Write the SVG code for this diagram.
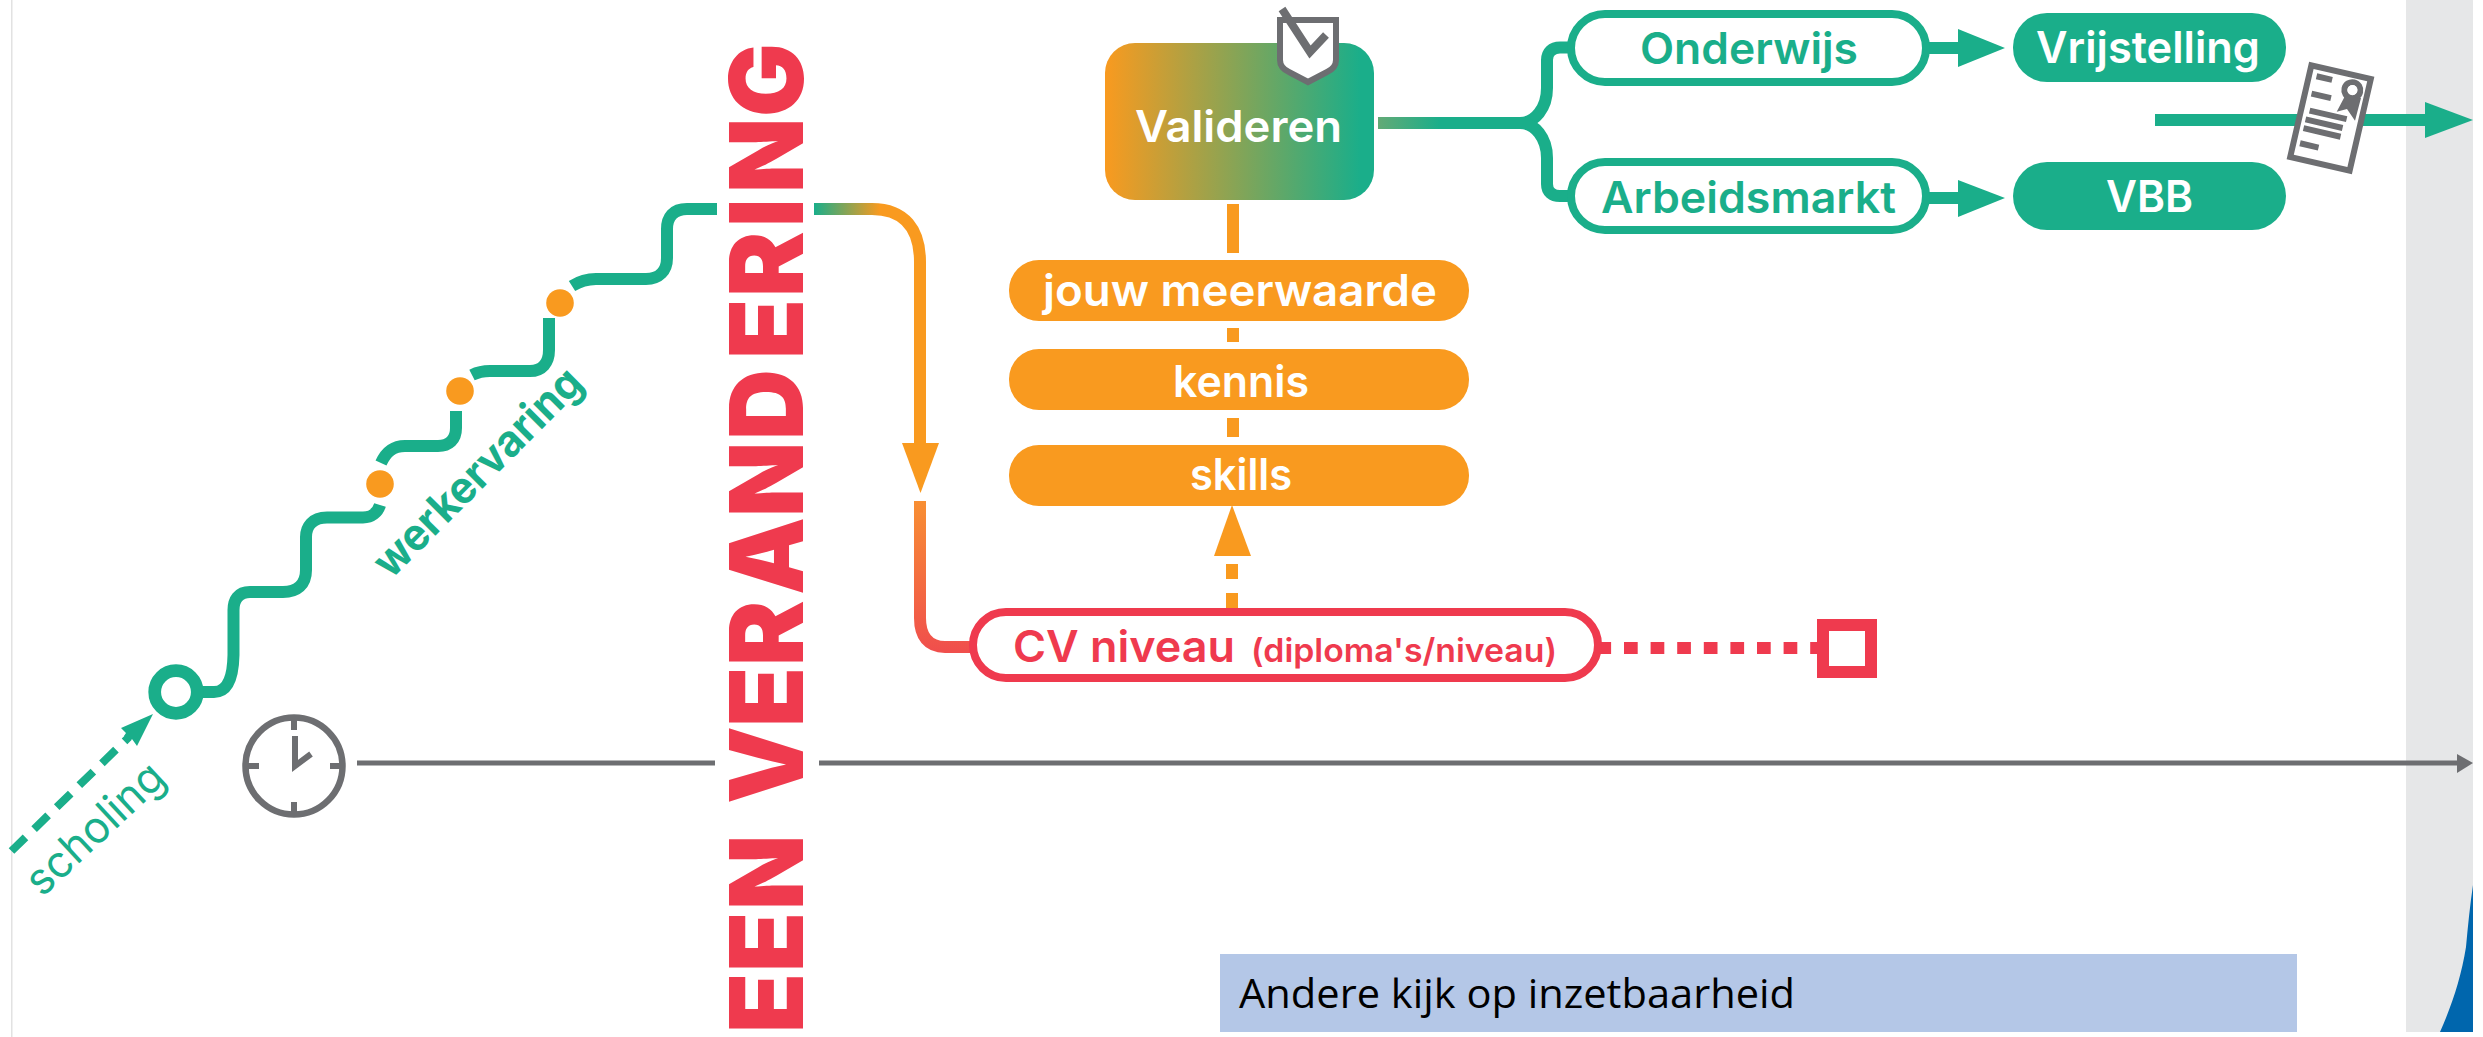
<svg xmlns="http://www.w3.org/2000/svg" width="2483" height="1037" viewBox="0 0 2483 1037">
<style>
.t{font-family:"Inter","Liberation Sans",sans-serif;font-weight:600;font-size:44px;text-anchor:start}
.w{fill:#fff}.g{fill:#1aae8a}.r{fill:#ef3a4e}.o{fill:#f99a1f}.k{fill:#6d6e71}
.ln{fill:none;stroke-width:12;stroke-linecap:butt}
.sg{stroke:#1aae8a}.so{stroke:#f99a1f}.sr{stroke:#ef3a4e}.sk{stroke:#6d6e71}
.po{fill:#fff;stroke:#1aae8a;stroke-width:8}
</style>
<defs>
<linearGradient id="gv" gradientUnits="userSpaceOnUse" x1="1105" y1="0" x2="1374" y2="0"><stop offset="0" stop-color="#f99a1f"/><stop offset="0.95" stop-color="#1aae8a"/></linearGradient>
<linearGradient id="gt" gradientUnits="userSpaceOnUse" x1="814" y1="0" x2="880" y2="0"><stop offset="0" stop-color="#1aae8a"/><stop offset="1" stop-color="#f99a1f"/></linearGradient>
<linearGradient id="gl" gradientUnits="userSpaceOnUse" x1="0" y1="501" x2="0" y2="650"><stop offset="0" stop-color="#f88f33"/><stop offset="1" stop-color="#f04f4c"/></linearGradient>
<linearGradient id="gb" gradientUnits="userSpaceOnUse" x1="1378" y1="0" x2="1440" y2="0"><stop offset="0" stop-color="#63aa76"/><stop offset="1" stop-color="#1aae8a"/></linearGradient>
</defs>
<rect width="2483" height="1037" fill="#fff"/>
<rect x="11" y="0" width="1.5" height="1037" fill="#e2e2e2"/>
<g id="end-panel"><rect x="2406" y="0" width="67" height="1032" fill="#e6e7e8"/><path d="M2473,885 C2470,905 2468,925 2466,947 C2461,978 2452,1005 2440,1032 H2473Z" fill="#0066ad"/></g>

<g id="connectors">
<path class="ln sg" d="M200,692 H214 C226,692 233,680 233.5,655 V610 C233.5,600 238,592 250,592 H283 C297,592 306,585 306,570 V537 C306,527 312,517.5 327,517.5 H363 C372,517.5 378,512 380,505"/>
<path class="ln sg" d="M381,463 C386,452 393,446 405,446 H438 C449,446 456,440 456,428 V411"/>
<path class="ln sg" d="M472,375 C478,372 484,371 490,371 H530 C542,371 549,363 549,350 V318"/>
<path class="ln sg" d="M572,286 C580,281 588,279 596,279 H646 C659,279 667,271 667,258 V229 C667,217 673,209 687,209 H717"/>
<path class="ln" stroke="url(#gt)" d="M814,209 H872 C905,209 920,230 920,262 V443"/>
<polygon class="o" points="902,443 939,443 920.5,493"/>
<path class="ln" stroke="url(#gl)" d="M920,501 V618 C920,636 928,647 945,647 H972"/>
<line class="ln sg" x1="11.5" y1="851" x2="129" y2="737" stroke-dasharray="19.5 12" style="stroke-width:8"/>
<polygon class="g" points="153,714 121,728 126,733 124,736 129,741 132,739 137,746"/>
<path class="ln so" d="M1233,204 V253 M1233,328 V342 M1233,418 V437 M1232,564 V579 M1232,593 V609"/>
<polygon class="o" points="1232,505 1214,556 1251,556"/>
<line class="ln sr" x1="1597.4" y1="648" x2="1817" y2="648" stroke-dasharray="13.7 12.9"/>
<path class="ln" stroke="url(#gb)" d="M1378,123 H1520 C1535,123 1547,108 1547,88 V60 C1547,52 1552,47.5 1560,47.5 H1572"/>
<path class="ln sg" d="M1520,123 C1535,123 1547,138 1547,158 V184 C1547,192 1552,196 1560,196 H1572"/>
<path class="ln sg" d="M1928,48 H1960 M1928,198 H1960"/>
<polygon class="g" points="1958,29 2005,48 1958,67"/>
<polygon class="g" points="1958,180 2005,198 1958,217"/>
<path class="ln sg" d="M2155,120 H2426"/>
<polygon class="g" points="2425,102 2473,120 2425,138"/>
<path class="ln sk" style="stroke-width:5" d="M357,763 H715 M819,763 H2458"/>
<polygon class="k" points="2457,754 2473,763 2457,773"/>
</g>

<g id="start"><circle cx="176" cy="692" r="21.3" fill="#fff" stroke="#1aae8a" stroke-width="12.7"/></g>
<g id="dot-1"><circle class="o" cx="380" cy="484" r="13.8"/></g>
<g id="dot-2"><circle class="o" cx="460" cy="391" r="13.8"/></g>
<g id="dot-3"><circle class="o" cx="560" cy="303" r="13.8"/></g>
<g id="label-scholing"><text class="t g" transform="translate(42,898) rotate(-43)" style="font-weight:400" textLength="172" lengthAdjust="spacingAndGlyphs">scholing</text></g>
<g id="label-werkervaring"><text class="t g" transform="translate(391,580) rotate(-45)" style="font-weight:700" textLength="275" lengthAdjust="spacingAndGlyphs">werkervaring</text></g>

<g id="clock">
<circle cx="294" cy="766" r="48.5" fill="#fff" stroke="#6d6e71" stroke-width="6.5"/>
<path class="ln sk" style="stroke-width:6" d="M294,720 V730 M294,802 V812 M248,766 H259 M330,766 H340"/>
<path class="ln sk" style="stroke-width:6" d="M295,736 V766 L311,754"/>
</g>

<g id="title"><text transform="translate(803,1026) rotate(-90) scale(.96,1)" font-family="Inter,'Liberation Sans',sans-serif" font-weight="900" font-size="102" class="r" x="-7.3 56.3 120.8 208 231.3 311.5 375 449 530.2 610.4 694.8 759.4 832.3 867.7 946.9">EEN VERANDERING</text></g>

<g id="valideren">
<rect x="1105" y="43" width="269" height="157" rx="30" fill="url(#gv)"/>
<text class="t w" x="1135" y="142" textLength="207" lengthAdjust="spacingAndGlyphs">Valideren</text>
<path d="M1280,20 H1336 V60 Q1336,68 1327,72 L1308,82 L1289,72 Q1280,68 1280,60Z" fill="#fff" stroke="#6d6e71" stroke-width="6"/>
<path d="M1282,9 L1310,52 L1326,35" fill="none" stroke="#6d6e71" stroke-width="8"/>
</g>
<g id="jouw-meerwaarde"><rect class="o" x="1009" y="260" width="460" height="61" rx="30"/><text class="t w" x="1043" y="306" textLength="394" lengthAdjust="spacingAndGlyphs">jouw meerwaarde</text></g>
<g id="kennis"><rect class="o" x="1009" y="349" width="460" height="61" rx="30"/><text class="t w" x="1173" y="397" textLength="136" lengthAdjust="spacingAndGlyphs">kennis</text></g>
<g id="skills"><rect class="o" x="1009" y="445" width="460" height="61" rx="30"/><text class="t w" x="1190" y="490" textLength="102" lengthAdjust="spacingAndGlyphs">skills</text></g>

<g id="cv-niveau">
<rect x="973" y="612" width="625" height="66" rx="33" fill="#fff" stroke="#ef3a4e" stroke-width="8"/>
<text class="t r" x="1013" y="662" textLength="222" lengthAdjust="spacingAndGlyphs">CV niveau</text>
<text class="t r" x="1251" y="662" style="font-size:33px" textLength="306" lengthAdjust="spacingAndGlyphs">(diploma's/niveau)</text>
</g>
<g id="end-square"><rect x="1823" y="625" width="48" height="47" fill="#fff" stroke="#ef3a4e" stroke-width="12"/></g>

<g id="onderwijs"><rect class="po" x="1571" y="14" width="355" height="68" rx="34"/><text class="t g" x="1640" y="64" textLength="218" lengthAdjust="spacingAndGlyphs">Onderwijs</text></g>
<g id="arbeidsmarkt"><rect class="po" x="1571" y="162" width="355" height="68" rx="34"/><text class="t g" x="1601" y="213" textLength="295" lengthAdjust="spacingAndGlyphs">Arbeidsmarkt</text></g>
<g id="vrijstelling"><rect class="g" x="2013" y="13" width="273" height="69" rx="34"/><text class="t w" x="2036" y="63" textLength="224" lengthAdjust="spacingAndGlyphs">Vrijstelling</text></g>
<g id="vbb"><rect class="g" x="2013" y="162" width="273" height="68" rx="34"/><text class="t w" x="2106" y="212" textLength="87" lengthAdjust="spacingAndGlyphs">VBB</text></g>

<g id="certificate">
<g transform="translate(2330.5,118) rotate(13)">
<rect x="-30.5" y="-47" width="61" height="94" fill="#fff" stroke="#6d6e71" stroke-width="6"/>
<path class="ln sk" style="stroke-width:6" d="M-23,-37.5 H-7 M-24,-19.5 H-4 M-22,-2.5 H16 M-24,7 H14 M-24,16 H14 M-24,31.5 H-5"/>
<circle cx="15" cy="-32" r="8" fill="#fff" stroke="#6d6e71" stroke-width="6"/>
</g>
<polygon class="k" points="2345,96 2336.7,111.7 2347,109 2355,120.7 2361,98"/>
<circle cx="2352.5" cy="90" r="5" fill="#fff"/>
</g>

<g id="caption"><rect x="1220" y="954" width="1077" height="78" fill="#b4c7e7"/><text x="1239" y="1008" font-family="'Open Sans','Liberation Sans',sans-serif" font-size="40" fill="#000" textLength="556" lengthAdjust="spacingAndGlyphs">Andere kijk op inzetbaarheid</text></g>
</svg>
